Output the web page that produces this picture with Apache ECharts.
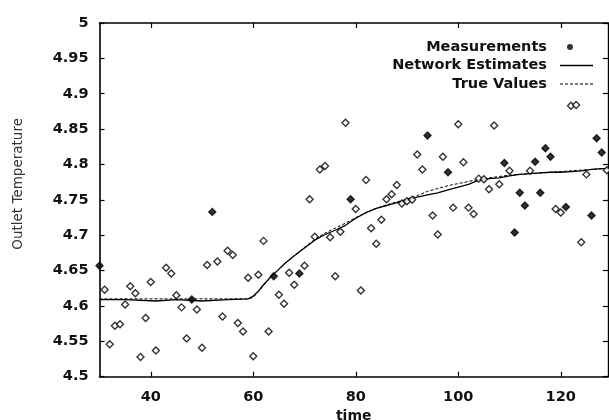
<!DOCTYPE html>
<html><head><meta charset="utf-8">
<script src="https://cdn.jsdelivr.net/npm/echarts@6/dist/echarts.min.js"></script>
<style>html,body{margin:0;padding:0;background:#fff}#c{width:609px;height:420px}</style>
</head><body><div id="c"></div>
<script>
// x-axis tick labels
const xTickValues = [40, 60, 80, 100, 120];

// Measurements (time, value); filled markers listed separately
const measTimes = [30,31,32,33,34,35,36,37,38,39,40,41,43,44,45,46,47,48,49,50,
  51,52,53,54,55,56,57,58,59,60,61,62,63,64,65,66,67,68,69,70,
  71,72,73,74,75,76,77,78,79,80,81,82,83,84,85,86,87,88,89,90,
  91,92,93,94,95,96,97,98,99,100,101,102,103,104,105,106,107,108,109,110,
  111,112,113,114,115,116,117,118,119,120,121,122,123,124,125,126,127,128,129];
const measValues = [4.657,4.623,4.546,4.572,4.574,4.602,4.628,4.618,4.528,4.583,4.634,4.537,4.654,4.646,4.615,4.598,4.554,4.609,4.595,4.541,
  4.658,4.733,4.663,4.585,4.678,4.672,4.576,4.564,4.640,4.529,4.644,4.692,4.564,4.642,4.616,4.603,4.647,4.630,4.646,4.657,
  4.751,4.698,4.793,4.798,4.697,4.642,4.705,4.859,4.751,4.737,4.622,4.778,4.710,4.688,4.722,4.751,4.758,4.771,4.745,4.748,
  4.750,4.814,4.793,4.841,4.728,4.701,4.811,4.789,4.739,4.857,4.803,4.739,4.730,4.780,4.779,4.765,4.855,4.772,4.802,4.791,
  4.704,4.760,4.742,4.791,4.804,4.760,4.823,4.811,4.737,4.732,4.740,4.883,4.884,4.690,4.786,4.728,4.837,4.817,4.792];
const measFilledTimes = [30,48,52,64,69,79,94,98,109,111,112,113,115,116,117,118,121,126,127,128];

// Network estimates (solid line)
const netTimes = [30,35,41,45,50,55,59,60,61,62,63,64,66,68,70,72,74,76,78,80,82,84,86,88,90,92,94,96,98,100,102,104,106,108,110,112,114,116,118,120,122,124,126,128,129.2];
const netValues = [4.609,4.609,4.607,4.609,4.607,4.609,4.610,4.614,4.621,4.630,4.638,4.645,4.659,4.671,4.682,4.693,4.701,4.707,4.714,4.724,4.732,4.738,4.742,4.746,4.749,4.754,4.757,4.760,4.764,4.768,4.772,4.778,4.780,4.781,4.784,4.786,4.787,4.788,4.789,4.789,4.790,4.791,4.793,4.794,4.794];

// True values (dashed line)
const trueTimes = [30,40,50,59,60,61,62,63,64,66,68,70,72,74,76,78,80,82,84,86,88,90,92,94,96,98,100,102,104,106,108,110,112,114,116,118,120,122,124,126,128,129.2];
const trueValues = [4.610,4.610,4.610,4.610,4.612,4.620,4.629,4.637,4.645,4.659,4.671,4.683,4.694,4.703,4.710,4.717,4.725,4.732,4.738,4.743,4.747,4.751,4.756,4.762,4.766,4.770,4.773,4.776,4.779,4.781,4.783,4.785,4.786,4.787,4.788,4.789,4.790,4.791,4.792,4.793,4.794,4.794];

const FONT = 'DejaVu Sans';
const INK = '#111';

const measData = measTimes.map((t, i) => {
  const filled = measFilledTimes.indexOf(t) >= 0;
  return {
    value: [t, measValues[i]],
    itemStyle: filled ? { color: '#000', borderColor: '#000' } : { color: '#fff', borderColor: '#000' }
  };
});

// legend sample icons (small dot left of centre, thin solid bar, dashed bar)
const dotIcon = 'path://M0,0M33,6M7,3a3,3 0 1,0 6,0a3,3 0 1,0 -6,0z';
const solidIcon = 'path://M0,0h33v1.3h-33z';
let dashPath = '';
for (let x = 0; x < 33; x += 5) dashPath += 'M' + x + ',0h3v1h-3z';
const dashIcon = 'path://' + dashPath;

const chart = echarts.init(document.getElementById('c'), null, { renderer: 'canvas' });
const xMin = 30, xMax = 129.2;
const tickLabelStyle = { fontFamily: FONT, fontWeight: 'bold', fontSize: 14.5, color: INK };

chart.setOption({
  animation: false,
  backgroundColor: '#fff',
  grid: { left: 99.5, top: 23, width: 508.4, height: 353.7, containLabel: false, outerBoundsMode: 'none' },
  legend: {
    orient: 'vertical', align: 'right', right: 16, top: 39.5, padding: 0,
    itemWidth: 33, itemHeight: 6, itemGap: 3.5, symbolKeepAspect: true,
    formatter: name => name + '{g|}',
    textStyle: { fontFamily: FONT, fontWeight: 'bold', fontSize: 14.5, color: INK,
      rich: { g: { width: 8 } } },
    data: [
      { name: 'Measurements', icon: dotIcon, itemStyle: { color: '#000', borderWidth: 0 } },
      { name: 'Network Estimates', icon: solidIcon, itemStyle: { color: '#000', borderWidth: 0 } },
      { name: 'True Values', icon: dashIcon, itemStyle: { color: '#000', borderWidth: 0 } }
    ]
  },
  xAxis: [{
    type: 'value', min: xMin, max: xMax, position: 'bottom',
    name: 'time', nameLocation: 'middle', nameGap: 30,
    nameTextStyle: { fontFamily: FONT, fontWeight: 'bold', fontSize: 14, color: INK },
    axisLine: { show: true, onZero: false, lineStyle: { color: '#000', width: 1.6 } },
    axisTick: { show: true, inside: true, length: 5, customValues: xTickValues, lineStyle: { color: '#000', width: 1.2 } },
    axisLabel: { show: true, margin: 13, customValues: xTickValues, ...tickLabelStyle },
    splitLine: { show: false }
  }, {
    type: 'value', min: xMin, max: xMax, position: 'top',
    axisLine: { show: true, onZero: false, lineStyle: { color: '#000', width: 1.6 } },
    axisTick: { show: true, inside: true, length: 5, customValues: xTickValues, lineStyle: { color: '#000', width: 1.2 } },
    axisLabel: { show: false },
    splitLine: { show: false }
  }],
  yAxis: [{
    type: 'value', min: 4.5, max: 5, interval: 0.05, position: 'left',
    name: 'Outlet Temperature', nameLocation: 'middle', nameGap: 74, nameRotate: 90,
    nameTextStyle: { fontFamily: FONT, fontSize: 13.5, color: '#333', padding: [0, 0, 0, 32] },
    axisLine: { show: true, onZero: false, lineStyle: { color: '#000', width: 1.6 } },
    axisTick: { show: true, inside: true, length: 5, lineStyle: { color: '#000', width: 1.2 } },
    axisLabel: { show: true, margin: 11, formatter: v => String(+v.toFixed(2)), ...tickLabelStyle },
    splitLine: { show: false }
  }, {
    type: 'value', min: 4.5, max: 5, interval: 0.05, position: 'right',
    axisLine: { show: true, onZero: false, lineStyle: { color: '#000', width: 1.4 } },
    axisTick: { show: true, inside: true, length: 5, lineStyle: { color: '#000', width: 1.2 } },
    axisLabel: { show: false },
    splitLine: { show: false }
  }],
  series: [{
    name: 'True Values', type: 'line', xAxisIndex: 0, yAxisIndex: 0,
    data: trueTimes.map((t, i) => [t, trueValues[i]]),
    symbol: 'none', showSymbol: false,
    lineStyle: { color: '#000', width: 1, type: [3, 2] },
    itemStyle: { color: '#000' }, z: 2
  }, {
    name: 'Network Estimates', type: 'line', xAxisIndex: 0, yAxisIndex: 0,
    data: netTimes.map((t, i) => [t, netValues[i]]),
    symbol: 'none', showSymbol: false,
    lineStyle: { color: '#000', width: 1.3 },
    itemStyle: { color: '#000' }, z: 3
  }, {
    name: 'Measurements', type: 'scatter', xAxisIndex: 0, yAxisIndex: 0,
    data: measData, symbol: 'diamond', symbolSize: 7,
    itemStyle: { color: '#000', borderColor: '#000', borderWidth: 1.4 },
    clip: false, z: 4
  }]
});
</script>
</body></html>
